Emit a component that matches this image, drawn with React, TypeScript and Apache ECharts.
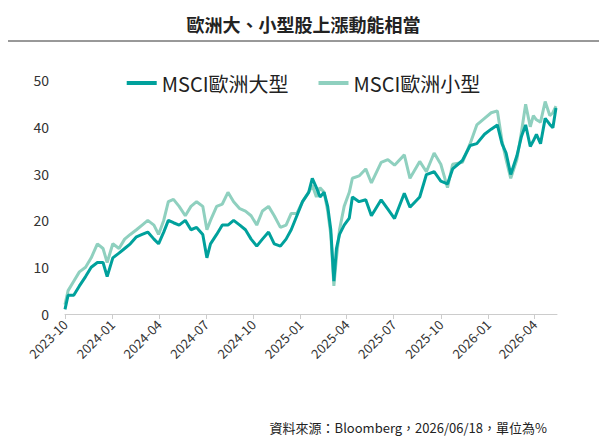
import React, { useRef, useEffect } from 'react';
import * as echarts from 'echarts';

const dates = [
  '2023-10-01', '2023-10-07', '2023-10-18', '2023-10-29', '2023-11-10', '2023-11-21', '2023-12-03', '2023-12-14',
  '2023-12-22', '2024-01-02', '2024-01-14', '2024-01-25', '2024-02-05', '2024-02-17', '2024-02-28', '2024-03-10',
  '2024-03-22', '2024-03-31', '2024-04-10', '2024-04-19', '2024-04-29', '2024-05-10', '2024-05-22', '2024-06-02',
  '2024-06-13', '2024-06-25', '2024-07-03', '2024-07-10', '2024-07-22', '2024-08-02', '2024-08-13', '2024-08-24',
  '2024-09-05', '2024-09-16', '2024-09-27', '2024-10-08', '2024-10-19', '2024-10-31', '2024-11-11', '2024-11-23',
  '2024-12-04', '2024-12-14', '2024-12-25', '2025-01-05', '2025-01-17', '2025-01-24', '2025-02-01', '2025-02-08',
  '2025-02-16', '2025-02-23', '2025-03-01', '2025-03-07', '2025-03-12', '2025-03-18', '2025-03-27', '2025-04-06',
  '2025-04-12', '2025-04-25', '2025-05-08', '2025-05-19', '2025-06-07', '2025-06-20', '2025-07-03', '2025-07-22',
  '2025-08-02', '2025-08-21', '2025-09-03', '2025-09-18', '2025-10-01', '2025-10-14', '2025-10-24', '2025-11-12',
  '2025-11-27', '2025-12-10', '2025-12-25', '2026-01-07', '2026-01-19', '2026-01-28', '2026-02-05', '2026-02-14',
  '2026-02-26', '2026-03-07', '2026-03-15', '2026-03-24', '2026-03-30', '2026-04-05', '2026-04-13', '2026-04-22',
  '2026-05-01', '2026-05-07', '2026-05-13',
];

const largeCap = [
  1, 4, 4, 6, 8, 10, 11, 11,
  8, 12, 13, 14, 15, 16.5, 17, 17.5,
  16, 15, 17.5, 20, 19.5, 19, 20, 18,
  18.5, 17, 12, 15, 17, 19, 19, 20,
  19, 18, 16, 14.5, 16, 17.5, 15, 14.5,
  16, 18, 21, 24, 26, 29, 27, 25,
  26, 23, 18, 7, 14, 17, 19, 20.5,
  25, 24, 24.4, 21, 24.4, 22.4, 20.4, 25.8,
  22.8, 25, 29.8, 30.4, 28.4, 27.8, 31, 32.8,
  36, 36.4, 38.4, 39.5, 40.4, 36.4, 34.4, 29.8,
  33.8, 38, 40.4, 35.8, 37, 38.4, 36.4, 41.8,
  40.5, 39.8, 44,
];

const smallCap = [
  2, 5, 7, 9, 10, 12, 15, 14,
  11, 15, 14, 16, 17, 18, 19, 20,
  19, 17, 20, 24, 24.5, 23, 21, 23,
  24, 23, 18, 20, 23, 23.5, 26, 24,
  22.5, 22, 21, 19, 22, 23, 21, 18.5,
  19, 21.5, 21.5, 24, 26, 27.5, 25, 27,
  26, 22, 17, 6, 12, 18, 23, 26,
  29, 29.5, 31, 28, 32.4, 33, 31.8, 34,
  29, 32.6, 30.4, 34.4, 32, 27, 32, 32.4,
  36.4, 40.4, 41.8, 43, 43.4, 37, 33, 29,
  33, 39, 44.8, 40, 42.4, 41.5, 41, 45.4,
  42.4, 43, 44.4,
];

const tickLabels = [
  '2023-10', '2024-01', '2024-04', '2024-07', '2024-10', '2025-01',
  '2025-04', '2025-07', '2025-10', '2026-01', '2026-04',
];

const font = "'Noto Sans CJK TC', 'Noto Sans', sans-serif";
const ts = (d: string) => +new Date(d + 'T00:00:00');

const App = () => {
  const chartRef = useRef<HTMLDivElement>(null);

  useEffect(() => {
    const chart = echarts.init(chartRef.current, null, { renderer: 'svg' });
    const tickValues = tickLabels.map((t) => ts(t + '-01'));

    chart.setOption({
      animation: false,
      textStyle: { fontFamily: font },
      title: {
        text: '歐洲大、小型股上漲動能相當',
        left: 'center',
        top: 2,
        textStyle: { fontSize: 18, fontWeight: 'bold', color: '#222', fontFamily: font },
      },
      graphic: [
        {
          type: 'line',
          shape: { x1: 0, y1: 33, x2: 607, y2: 33 },
          style: { stroke: '#333', lineWidth: 1 },
        },
        {
          type: 'text',
          right: 52,
          bottom: 6,
          style: { text: '資料來源：Bloomberg，2026/06/18，單位為%', fontSize: 13, fill: '#222', fontFamily: font },
        },
      ],
      legend: {
        top: 60,
        left: 'center',
        itemWidth: 30,
        itemHeight: 4,
        itemGap: 30,
        textStyle: { fontSize: 20, color: '#222', fontFamily: font },
        icon: 'rect',
      },
      grid: { left: 57, right: 42, top: 72, bottom: 126 },
      xAxis: {
        type: 'value',
        min: ts('2023-10-01'),
        max: ts('2026-05-15'),
        axisLine: { show: true, lineStyle: { color: '#ccc' } },
        axisTick: { show: true, customValues: tickValues, lineStyle: { color: '#ccc' } },
        axisLabel: {
          customValues: tickValues,
          rotate: 45,
          fontSize: 13,
          color: '#333',
          formatter: (v: number) => {
            const d = new Date(v);
            return d.getFullYear() + '-' + String(d.getMonth() + 1).padStart(2, '0');
          },
        },
        splitLine: { show: false },
      },
      yAxis: {
        type: 'value',
        min: 0,
        max: 50,
        interval: 10,
        axisLabel: { fontSize: 14, color: '#333', margin: 16 },
        splitLine: { show: false },
        axisLine: { show: false },
        axisTick: { show: false },
      },
      series: [
        {
          name: 'MSCI歐洲大型',
          type: 'line',
          symbol: 'none',
          color: '#00a19c',
          lineStyle: { width: 3 },
          data: dates.map((d, i) => [ts(d), largeCap[i]]),
          z: 3,
        },
        {
          name: 'MSCI歐洲小型',
          type: 'line',
          symbol: 'none',
          color: '#8fd0bf',
          lineStyle: { width: 3 },
          data: dates.map((d, i) => [ts(d), smallCap[i]]),
          z: 2,
        },
      ],
    });

    return () => {
      chart.dispose();
    };
  }, []);

  return <div ref={chartRef} style={{ width: '591px', height: '432px' }} />;
};

export default App;
